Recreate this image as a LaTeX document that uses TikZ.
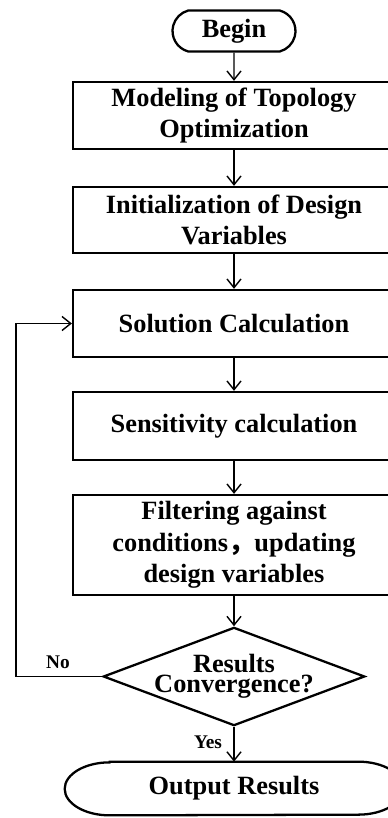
\documentclass[tikz,border=0pt]{standalone}
\usepackage{fontspec}
\setmainfont{Liberation Serif}
\newfontfamily\cjk{Noto Sans CJK SC}
\usetikzlibrary{shapes.geometric, shapes.misc, arrows.meta}

\tikzset{
	outline/.style  = {line width=1.3pt},
	stepbox/.style  = {draw, outline, minimum width=6.44cm, inner sep=0pt, align=center, font=\fontsize{15}{18}\selectfont\bfseries},
	terminal/.style = {draw, outline, rounded rectangle, rounded rectangle arc length=150, inner sep=0pt, font=\fontsize{15}{18}\selectfont\bfseries},
	decision/.style = {draw, outline, diamond, aspect=2.66, inner xsep=-4pt, inner ysep=0pt, minimum width=5.16cm, minimum height=1.94cm, align=center, font=\fontsize{15}{10}\selectfont\bfseries},
	flow/.style     = {->, line width=0.8pt},
	tag/.style      = {font=\fontsize{11}{13}\selectfont\bfseries, inner sep=0pt}
}

\begin{document}
\begin{tikzpicture}[x=0.02cm, y=-0.02cm, >={Straight Barb[length=5pt, width=8pt]}]
		\useasboundingbox (0,0) rectangle (388,818);
		% Blocks
		\node[terminal, minimum width=2.46cm, minimum height=0.82cm] (begin) at (234,31) {Begin};
		\node[stepbox, minimum height=1.34cm] (model)  at (234,115.5) {Modeling of Topology\\Optimization};
		\node[stepbox, minimum height=1.32cm] (init)   at (234,220)   {Initialization of Design\\Variables};
		\node[stepbox, minimum height=1.34cm] (solve)  at (234,323.5) {Solution Calculation};
		\node[stepbox, minimum height=1.36cm] (sens)   at (234,426)   {Sensitivity calculation};
		\node[stepbox, minimum height=2.0cm]  (filter) at (234,545)   {Filtering against\\conditions{\cjk ，}updating\\design variables};
		\node[decision] (conv) at (234,676.5) {Results\\Convergence?};
		% end block with long elliptic ends
		\node[inner sep=0pt, minimum width=6.76cm, minimum height=1.06cm, font=\fontsize{15}{18}\selectfont\bfseries] (output) at (234,788.5) {Output Results};
		\draw[outline] ([xshift=0.9cm]output.north west) -- ([xshift=-0.9cm]output.north east)
			arc[start angle=90, end angle=-90, x radius=0.9cm, y radius=0.53cm]
			-- ([xshift=0.9cm]output.south west)
			arc[start angle=270, end angle=90, x radius=0.9cm, y radius=0.53cm] -- cycle;
		% Arrows down the chain
		\foreach \a/\b in {begin/model, model/init, init/solve, solve/sens, sens/filter, filter/conv, conv/output}
			\draw[flow] (\a) -- (\b);
		% Loop back when not converged
		\coordinate (turn) at (16,676.5);
		\draw[flow] (conv.west) -- (turn) |- (solve.west);
		% Labels
		\node[tag] (no)  at (58,662)  {No};
		\node[tag] (yes) at (208,742) {Yes};
	\end{tikzpicture}
\end{document}
